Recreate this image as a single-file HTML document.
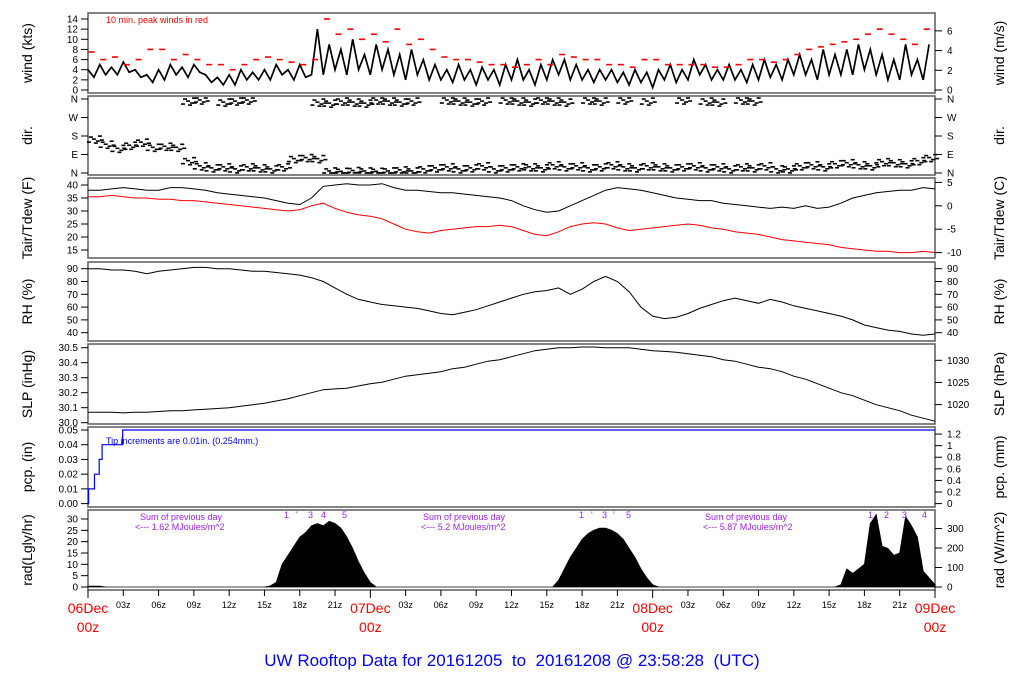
<!DOCTYPE html>
<html><head><meta charset="utf-8"><style>
body{margin:0;background:#fff;}
svg{display:block;font-family:"Liberation Sans",sans-serif;}
</style></head><body>
<svg id="chart" width="1024" height="700" viewBox="0 0 1024 700" xmlns="http://www.w3.org/2000/svg"></svg>
<script>
// ---- data (hours from 06Dec 00z) ----
const windKts=[4,2.5,5,3,4.5,3,5.5,3.5,4,2.5, 3,1.5,4,2,5,3,4.5,2.5,5,3.5, 3,1.5,2.5,1,3,1,4,2,3.5,2, 4,2,5,3,4,2,5,2.5,3, 12,3,9,4,8,3,10,4,7,3, 9,4,8,3,7,2,8,3,6,2, 5,2,4,1.5,5,2,4,1,4.5,2, 4,1,5,2,6,2,4,1,5,2, 6,3,6,2,5,2,4,1.5,4,2, 4,1.5,3.5,1,4,1.5,3.5,0.5,4,2, 5,1.5,4,2,6,3,5,2,4,2, 5,2,4,1.5,5,2,6,2.5,5,2, 6,3,7,3,6,2,8,3,7,3, 8,3,9,4,8,3,7,2,6,2, 9,3,6,2,9];
const windPeak=[7.5,6,6.5,5,6,8,8,6,7,6, 5,5,4,5,6,6.5,6,5.5,5,6, 14,11,12,10,11,9.5,12,9,10,8, 6.5,6,6,5.5,5,5,4.5,5,6,5, 7,6.5,6,6,5,5,4.5,6,6,5, 5,5,5,4.5,4.5,5,6,6,5.5,6, 7,8,8.5,9,9.5,10,11,12,11,10, 9,12];
const dirLow=[165,140,120,135,150,125,130,125,60,35, 25,30,20,30,25,20,30,70,75,70, 10,8,12,10,8,10,15,10,20,25, 30,20,25,35,20,25,30,30,25,40, 30,35,25,30,40,30,25,35,30,25, 30,35,25,30,20,30,25,35,20,20, 35,40,30,45,50,40,35,55,50,45, 60,75];
const dirHigh=[null,null,null,null,null,null,null,null,350,355, null,345,350,355,null,null,null,null,null,345, 340,350,345,340,355,350,345,350,null,null, 355,350,345,350,null,355,350,345,355,350, 345,null,355,350,null,355,null,350,null,null, 355,null,350,345,null,355,350,null,null,null, null,null,null,null,null,null,null,null,null,null, null,null];
const tair=[38,38,38.5,39,38.5,38,38,39,39,38.5, 38,37,36.5,36,35.5,35,34,33,32.5,35, 39.5,40,40.5,40,40,40.5,39,38,38,37.5, 37,37,36.5,36,35.5,35,34,32,30.5,29.5, 30,32,34,36,38,39,38.5,38,37,36, 35,34.5,34,34,33,32.5,32,31.5,31,31.5, 31,32,31,31.5,33,35,36,37,37.5,38, 38,39,38.5];
const tdew=[35.5,35.5,36,35.5,35,35,34.5,34.5,34,34, 33.5,33,32.5,32,31.5,31,30.5,30,30.5,32, 33,31,29.5,28.5,28,27,25,23,22,21.5, 22.5,23,23.5,24,24,24.5,24,22.5,21,20.5, 22,24,25,25.5,25,23.5,22.5,23,23.5,24, 24.5,25,24.5,23.5,23,22,21.5,21,20,19, 18.5,18,17.5,17,16,15.5,15,14.5,14.5,14, 14,14.5,14];
const rh=[90,90,89,89,88,86,88,89,90,91, 91,90,90,89,88,88,87,86,85,83, 80,75,70,66,64,62,61,60,59,57, 55,54,56,58,61,64,67,70,72,73, 75,70,74,80,84,80,72,60,53,51, 52,55,59,62,65,67,65,63,66,64, 61,59,57,55,53,50,46,44,42,41, 39,38,39];
const slp=[30.07,30.07,30.07,30.065,30.07,30.07,30.075,30.08,30.08,30.085, 30.09,30.095,30.10,30.11,30.12,30.13,30.145,30.16,30.18,30.2, 30.22,30.225,30.23,30.245,30.26,30.27,30.29,30.31,30.32,30.33, 30.34,30.36,30.37,30.39,30.41,30.42,30.44,30.46,30.48,30.49, 30.5,30.5,30.505,30.505,30.5,30.5,30.5,30.49,30.48,30.475, 30.47,30.46,30.45,30.44,30.42,30.41,30.39,30.37,30.36,30.34, 30.31,30.29,30.26,30.23,30.2,30.18,30.15,30.12,30.10,30.08, 30.05,30.03,30.01];
const pcpTimes=[0,0.05,0.55,0.95,1.2,2.95,72];
const pcpVals=[0,0.01,0.02,0.03,0.04,0.05,0.05];
const rad=[0.4,0.4,0.4,0,0,0,0,0,0,0, 0,0,0,0,0,0,0,0,0,0, 0,0,0,0,0,0,0,0,0,0, 0,0.5,2,10,14,18,22,24,27,28, 27,29,28,26,22,17,11,6,2,0, 0,0,0,0,0,0,0,0,0,0, 0,0,0,0,0,0,0,0,0,0, 0,0,0,0,0,0,0,0,0,0, 3,8,13,17,21,23.5,25,26,26,25, 23.5,21,17,13,8,4,1,0,0,0, 0,0,0,0,0,0,0,0,0,0, 0,0,0,0,0,0,0,0,0,0, 0,0,0,0,0,0,0,0,1,8, 6,8,10,28,32,18,17,14,15,31, 27,22,7,4,1];
const hourTicks=["03z","06z","09z","12z","15z","18z","21z"];
const dayLabels=["06Dec","07Dec","08Dec","09Dec"];

// ---- layout ----
const svg=document.getElementById('chart');
const NS='http://www.w3.org/2000/svg';
const X0=88,X1=935;
const x=h=>X0+h*(X1-X0)/72;
function el(tag,attrs,parent,text){const e=document.createElementNS(NS,tag);for(const k in attrs)e.setAttribute(k,attrs[k]);if(text!==undefined)e.textContent=text;(parent||svg).appendChild(e);return e;}
function lin(v0,p0,v1,p1){return v=>p0+(v-v0)*(p1-p0)/(v1-v0);}
const panels=[
 {name:'wind',top:13,bot:93,y:lin(0,90,14,19),ticks:[0,2,4,6,8,10,12,14],fmt:v=>v,rticks:[0,2,4,6],rfmt:v=>v,lt:'wind (kts)',rt:'wind (m/s)'},
 {name:'dir',top:96,bot:175,y:lin(0,173,360,99),ticks:[0,90,180,270,360],fmt:v=>({0:'N',90:'E',180:'S',270:'W',360:'N'})[v],lt:'dir.',rt:'dir.'},
 {name:'temp',top:178,bot:258,y:lin(15,250,40,185),ticks:[15,20,25,30,35,40],fmt:v=>v,rticks:[-10,-5,0,5],rfmt:v=>v,lt:'Tair/Tdew (F)',rt:'Tair/Tdew (C)'},
 {name:'rh',top:262,bot:341,y:lin(40,332.7,90,268.7),ticks:[40,50,60,70,80,90],fmt:v=>v,lt:'RH (%)',rt:'RH (%)',rticks:[40,50,60,70,80,90],rfmt:v=>v,rtickF:v=>v},
 {name:'slp',top:344,bot:424,y:lin(30,422.7,30.5,347.7),ticks:[30,30.1,30.2,30.3,30.4,30.5],fmt:v=>v.toFixed(1),lt:'SLP (inHg)',rt:'SLP (hPa)',rticks:[1020,1025,1030],rfmt:v=>v,rtickF:v=>v/33.8639},
 {name:'pcp',top:427,bot:507,y:lin(0,503.6,0.05,430),ticks:[0,0.01,0.02,0.03,0.04,0.05],fmt:v=>v.toFixed(2),lt:'pcp. (in)',rt:'pcp. (mm)',rticks:[0,0.2,0.4,0.6,0.8,1,1.2],rfmt:v=>v,rtickF:v=>v/25.4},
 {name:'rad',top:510,bot:590,y:lin(0,587,30,519),ticks:[0,5,10,15,20,25,30],fmt:v=>v,lt:'rad(Lgly/hr)',rt:'rad (W/m^2)',rticks:[0,100,200,300],rfmt:v=>v,rtickF:v=>v/11.63}
];
panels[0].rtickF=v=>v*1.9438;
panels[2].rtickF=c=>c*9/5+32;
panels[1].rticks=[0,90,180,270,360];panels[1].rfmt=panels[1].fmt;panels[1].rtickF=v=>v;

panels.forEach(p=>{
  const g=el('g',{});
  
  
  const fr=el('rect',{x:X0,y:p.top,width:X1-X0,height:p.bot-p.top,fill:'none',stroke:'#666','stroke-width':1.6},g);
  
  
  p.ticks.forEach(t=>{
    const yy=p.y(t);
    el('line',{x1:X0-7,x2:X0,y1:yy,y2:yy,stroke:'#000','stroke-width':1},g);
    const tx=el('text',{x:X0-10,y:yy+3.5,'font-size':10,'text-anchor':'end'},g,p.fmt(t));
    
    
  });
  p.rticks.forEach(t=>{
    const yy=p.y(p.rtickF(t));
    el('line',{x1:X1,x2:X1+7,y1:yy,y2:yy,stroke:'#000','stroke-width':1},g);
    const tx=el('text',{x:X1+12,y:yy+3.5,'font-size':10},g,p.rfmt(t));
    
    
  });
  const cy=(p.top+p.bot)/2;
  const lt=el('text',{x:32,y:cy,'font-size':14,'text-anchor':'middle',transform:`rotate(-90 32 ${cy})`},g,p.lt);
  
  
  const rt=el('text',{x:1004,y:cy,'font-size':14,'text-anchor':'middle',transform:`rotate(-90 1004 ${cy})`},g,p.rt);
  
  
});
const P={};panels.forEach(p=>P[p.name]=p);
function poly(arr,step,yf,color,w,name){
  const pts=arr.map((v,i)=>x(i*step).toFixed(1)+','+yf(v).toFixed(1)).join(' ');
  const e=el('polyline',{points:pts,fill:'none',stroke:color,'stroke-width':w});
  
  
  return e;
}
// wind
poly(windKts,0.5,P.wind.y,'#000',1.7,'wind-speed-line');
windPeak.forEach((v,i)=>{
  const r=el('rect',{x:x(i+0.3)-3,y:P.wind.y(v)-0.8,width:6,height:1.6,fill:'#f00'});
  
  
});
const wl=el('text',{x:106,y:23,'font-size':9,fill:'#f00'},svg,'10 min. peak winds in red');


// dir
const offs=[[0,0],[4,2],[-3,-2],[6,-3],[-5,3],[2,4],[8,1]];
function dirMarks(arr,name){
  arr.forEach((v,i)=>{
    if(v===null)return;
    offs.forEach(o=>{
      const yy=Math.min(Math.max(P.dir.y(v)+o[1],P.dir.top+2),P.dir.bot-2);
      const r=el('rect',{x:x(i+0.5)+o[0]-2,y:yy-0.8,width:4,height:1.6,fill:'#000'});
      
      
    });
  });
}
dirMarks(dirLow,'wind-dir-point');
dirMarks(dirHigh,'wind-dir-point-north');
// temp
poly(tair,1,P.temp.y,'#000',1,'air-temp-line');
poly(tdew,1,P.temp.y,'#f00',1,'dewpoint-line');
poly(rh,1,P.rh.y,'#000',1,'rh-line');
poly(slp,1,P.slp.y,'#000',1,'slp-line');
// pcp step
let d='';
pcpTimes.forEach((t,i)=>{
  const xx=x(t).toFixed(1),yy=P.pcp.y(pcpVals[i]).toFixed(1);
  if(i===0)d+=`M${xx},${yy}`;else d+=`H${xx}V${yy}`;
});
const pc=el('path',{d:d,fill:'none',stroke:'#00f','stroke-width':1.2});


const pn=el('text',{x:106,y:444,'font-size':9,fill:'#00f'},svg,'Tip increments are 0.01in. (0.254mm.)');


// rad area
let ra=`M${x(0)},${P.rad.y(0)}`;
rad.forEach((v,i)=>{ra+=`L${x(i*0.5).toFixed(1)},${P.rad.y(v).toFixed(1)}`;});
ra+=`L${x(72)},${P.rad.y(0)}Z`;
const rp=el('path',{d:ra,fill:'#000',stroke:'#000','stroke-width':0.8});


[['Sum of previous day',140,520],['<--- 1.62 MJoules/m^2',135,530],['Sum of previous day',423,520],['<--- 5.2 MJoules/m^2',421,530],['Sum of previous day',705,520],['<--- 5.87 MJoules/m^2',703,530]].forEach(a=>{
  const t=el('text',{x:a[1],y:a[2],'font-size':9,fill:'#a020f0'},svg,a[0]);
  
  
});
[['1',284],["'",296],['3',308],['4',321],['5',342],['1',579],["'",591],['3',602],["'",613],['5',626],['1',868],['2',884],['3',902],['4',922]].forEach(a=>{
  const t=el('text',{x:a[1],y:518,'font-size':9,fill:'#a020f0'},svg,a[0]);
  
  
});
// x axis
for(let h=0;h<=72;h+=3){
  const day=h%24===0;
  el('line',{x1:x(h),x2:x(h),y1:590,y2:day?598:596,stroke:'#000','stroke-width':1});
  if(!day){
    const t=el('text',{x:x(h),y:608,'font-size':9,'text-anchor':'middle'},svg,hourTicks[(h%24)/3-1]);
    
    
  }
}
dayLabels.forEach((lbl,i)=>{
  const t=el('text',{x:x(i*24),y:613,'font-size':14,'text-anchor':'middle',fill:'#f00'},svg,lbl);
  
  
  const z=el('text',{x:x(i*24),y:632,'font-size':14,'text-anchor':'middle',fill:'#f00'},svg,'00z');
  
  
});
const title=el('text',{x:512,y:666,'font-size':17,'text-anchor':'middle',fill:'#00f',style:'white-space:pre'},svg,'UW Rooftop Data for 20161205  to  20161208 @ 23:58:28  (UTC)');


</script>
</body></html>
